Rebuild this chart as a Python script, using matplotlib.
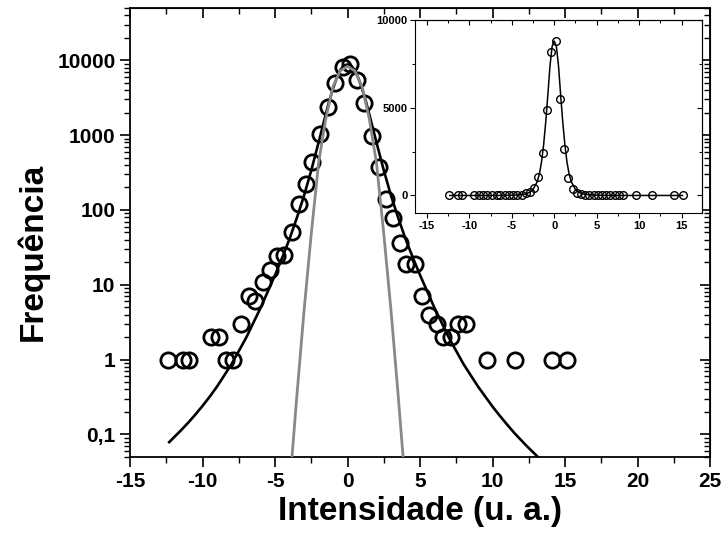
import numpy as np
import matplotlib.pyplot as plt
from matplotlib.ticker import MultipleLocator, LogLocator, NullFormatter

plt.rcParams['font.family'] = ['Liberation Sans', 'DejaVu Sans']
plt.rcParams['font.weight'] = 'bold'
plt.rcParams['axes.unicode_minus'] = False

# histogram points
x_pts = [-12.36, -11.36, -10.9, -9.41, -8.86, -8.4, -7.87, -7.34, -6.79, -6.38,
         -5.85, -5.34, -4.88, -4.36, -3.85, -3.32, -2.86, -2.43, -1.9, -1.37,
         -0.86, -0.33, 0.17, 0.68, 1.14, 1.67, 2.19, 2.63, 3.12, 3.6,
         4.05, 4.66, 5.12, 5.64, 6.15, 6.61, 7.14, 7.6, 8.15, 9.6,
         11.55, 14.08, 15.12]
y_pts = [1, 1, 1, 2, 2, 1, 1, 3, 7, 6,
         11, 16, 24, 25, 50, 119, 220, 443, 1030, 2400,
         4900, 8200, 8800, 5500, 2650, 970, 370, 139, 77, 36,
         19, 19, 7, 4, 3, 2, 2, 3, 3, 1,
         1, 1, 1]

# black fit curve
fit_x = [-12.3, -11.5, -11, -10.5, -10, -9.5, -9, -8, -7, -6, -5, -4.5, -4, -3.5,
         -3, -2.5, -2, -1.75, -1.5, -1.25, -1, -0.75, -0.5, -0.25, 0,
         0.25, 0.5, 0.75, 1, 1.25, 1.5, 1.75, 2, 2.5, 3, 3.5, 4, 4.5, 5,
         6, 7, 8, 9, 9.5, 10, 10.5, 11, 11.5, 12.3, 13, 14, 15.1]
fit_y = [0.079, 0.113, 0.143, 0.184, 0.241, 0.321, 0.437, 0.871, 1.95, 4.9, 13.5, 23.2, 41, 78,
         155, 339, 794, 1230, 1900, 2900, 4200, 5750, 7400, 8500, 8800,
         8500, 7400, 5750, 4200, 2900, 1900, 1230, 794, 339, 155, 78, 41, 23.2, 13.5,
         4.9, 1.95, 0.871, 0.437, 0.321, 0.236, 0.178, 0.136, 0.105, 0.072, 0.053, 0.034, 0.021]

# gray gaussian curve
gau_x = [-3.85, -3.5, -3, -2.5, -2, -1.5, -1, -0.5, 0, 0.5, 1, 1.5, 2, 2.5, 3, 3.5, 3.85]
gau_y = [0.045, 0.32, 4.5, 48, 420, 1660, 4470, 7240, 8300, 7240, 4470, 1660,
         420, 48, 4.5, 0.32, 0.045]

y_ticks = [0.1, 1, 10, 100, 1000, 10000]
y_labels = ['0,1', '1', '10', '100', '1000', '10000']

fig = plt.figure(figsize=(7.24, 5.39), dpi=100)
ax = fig.add_axes([0.1796, 0.1521, 0.8011, 0.8331])

ax.plot(fit_x, fit_y, color='black', lw=1.9, zorder=2)
ax.plot(x_pts, y_pts, 'o', mfc='none', mec='black', ms=11, mew=2.0, zorder=3)
ax.plot(gau_x, gau_y, color='#888888', lw=2.0, zorder=4)

ax.set_yscale('log')
ax.set_xlim(-15, 25)
ax.set_ylim(0.05, 50000)
ax.set_yticks(y_ticks, y_labels)
ax.yaxis.set_minor_locator(LogLocator(base=10, subs=np.arange(2, 10)))
ax.yaxis.set_minor_formatter(NullFormatter())
ax.xaxis.set_major_locator(MultipleLocator(5))
ax.xaxis.set_minor_locator(MultipleLocator(2.5))
ax.tick_params(which='major', direction='out', length=7, width=1.2, labelsize=15)
ax.tick_params(which='minor', direction='out', length=4, width=1.0)
for s in ax.spines.values():
    s.set_linewidth(1.3)

top = ax.secondary_xaxis('top')
top.xaxis.set_major_locator(MultipleLocator(5))
top.xaxis.set_minor_locator(MultipleLocator(2.5))
top.tick_params(which='major', direction='in', length=7, width=1.2, labeltop=False)
top.tick_params(which='minor', direction='in', length=4, width=1.0)
right = ax.secondary_yaxis('right')
right.set_yticks(y_ticks)
right.yaxis.set_minor_locator(LogLocator(base=10, subs=np.arange(2, 10)))
right.tick_params(which='major', direction='in', length=7, width=1.2, labelright=False)
right.tick_params(which='minor', direction='in', length=4, width=1.0, labelright=False)
right.yaxis.set_minor_formatter(NullFormatter())

ax.set_xlabel('Intensidade (u. a.)', fontsize=24, fontweight='bold', labelpad=4)
ax.set_ylabel('Frequência', fontsize=24, fontweight='bold')
ax.yaxis.set_label_coords(-0.14, 0.457)

# inset, linear scale
ins = fig.add_axes([0.5732, 0.6048, 0.3964, 0.358])
ins.plot(fit_x, fit_y, color='black', lw=1.1, zorder=2)
ins.plot(x_pts, y_pts, 'o', mfc='none', mec='black', ms=5.5, mew=1.0, zorder=3)
ins.set_xlim(-16.4, 17.4)
ins.set_ylim(-1000, 10000)
ins.set_xticks([-15, -10, -5, 0, 5, 10, 15])
ins.set_yticks([0, 5000, 10000])
ins.xaxis.set_minor_locator(MultipleLocator(2.5))
ins.yaxis.set_minor_locator(MultipleLocator(2500))
ins.tick_params(which='major', direction='out', length=3.5, width=0.8, labelsize=8, pad=2)
ins.tick_params(which='minor', direction='out', length=2, width=0.7)
for s in ins.spines.values():
    s.set_linewidth(0.8)
itop = ins.secondary_xaxis('top')
itop.set_xticks([-15, -10, -5, 0, 5, 10, 15])
itop.xaxis.set_minor_locator(MultipleLocator(2.5))
itop.tick_params(which='major', direction='in', length=3.5, width=0.8, labeltop=False)
itop.tick_params(which='minor', direction='in', length=2, width=0.7)
iright = ins.secondary_yaxis('right')
iright.set_yticks([0, 5000, 10000])
iright.yaxis.set_minor_locator(MultipleLocator(2500))
iright.tick_params(which='major', direction='in', length=3.5, width=0.8, labelright=False)
iright.tick_params(which='minor', direction='in', length=2, width=0.7)

fig.savefig('out.png', dpi=100)
